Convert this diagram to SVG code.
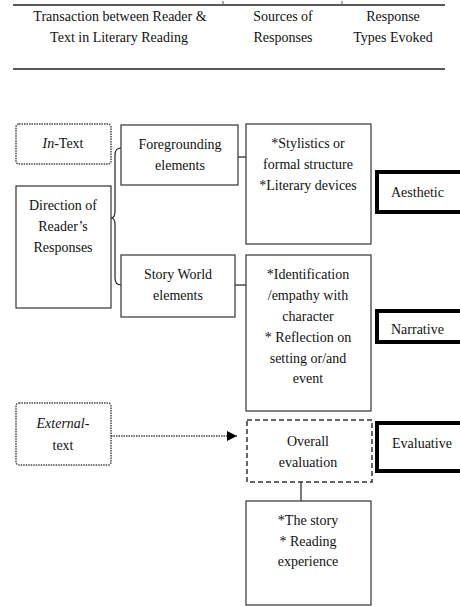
<svg xmlns="http://www.w3.org/2000/svg" width="460" height="607" viewBox="0 0 460 607">
<defs>
<style>
text{font-size:14px;fill:#111;text-anchor:middle}
.l{text-anchor:start}
.box{fill:#fff;stroke:#333;stroke-width:1.2}
.dot{fill:#fff;stroke:#444;stroke-width:1.5;stroke-dasharray:1.5 1}
.dash{fill:#fff;stroke:#333;stroke-width:1.5;stroke-dasharray:5 3}
.thick{fill:#fff;stroke:#000;stroke-width:4}
.ln{fill:none;stroke:#222;stroke-width:1.2}
</style>
<marker id="ah" viewBox="0 0 10 10" refX="10" refY="5" markerWidth="10" markerHeight="10" markerUnits="userSpaceOnUse" orient="auto">
<path d="M0,0 L10,5 L0,10 Z" fill="#000"/>
</marker>
</defs>
<rect width="460" height="607" fill="#fff"/>
<g font-family="Liberation Serif">
<g id="header">
<line x1="13" y1="5" x2="445" y2="5" stroke="#222" stroke-width="1.5"/>
<line x1="223" y1="1" x2="223" y2="5" stroke="#555" stroke-width="1"/>
<line x1="342" y1="1" x2="342" y2="5" stroke="#555" stroke-width="1"/>
<line x1="13" y1="69" x2="445" y2="69" stroke="#222" stroke-width="1.5"/>
<text x="120" y="21">Transaction  between Reader &amp;</text>
<text x="119" y="42">Text in Literary Reading</text>
<text x="283" y="21">Sources of</text>
<text x="283" y="42">Responses</text>
<text x="393" y="21">Response</text>
<text x="393" y="42">Types Evoked</text>
</g>
<g id="connectors">
<path class="ln" d="M121,148 Q115,148 115,155 L115,211 Q115,218 111,218 Q115,218 115,225 L115,278 Q115,285 121,285"/>
<line class="ln" x1="238" y1="157" x2="246" y2="157"/>
<line class="ln" x1="235" y1="285" x2="246" y2="285"/>
<line x1="111" y1="436" x2="237" y2="436" stroke="#444" stroke-width="1.5" stroke-dasharray="1.5 1" marker-end="url(#ah)"/>
<line class="ln" x1="301" y1="482" x2="301" y2="501"/>
</g>
<g id="in-text">
<rect class="dot" x="16" y="124" width="95" height="40" rx="3"/>
<text x="63" y="148"><tspan font-style="italic">In</tspan>-Text</text>
</g>
<g id="direction">
<rect class="box" x="16" y="186" width="95" height="122"/>
<text x="63" y="210">Direction of</text>
<text x="63" y="231">Reader’s</text>
<text x="63" y="252">Responses</text>
</g>
<g id="foregrounding">
<rect class="box" x="121" y="125" width="117" height="60"/>
<text x="180" y="149">Foregrounding</text>
<text x="180" y="170">elements</text>
</g>
<g id="story-world">
<rect class="box" x="121" y="255" width="114" height="62"/>
<text x="178" y="279">Story World</text>
<text x="178" y="300">elements</text>
</g>
<g id="stylistics">
<rect class="box" x="246" y="124" width="125" height="120"/>
<text x="308" y="148">*Stylistics or</text>
<text x="308" y="169">formal structure</text>
<text x="308" y="190">*Literary devices</text>
</g>
<g id="identification">
<rect class="box" x="246" y="255" width="125" height="156"/>
<text x="308" y="279">*Identification</text>
<text x="308" y="300">/empathy with</text>
<text x="308" y="321">character</text>
<text x="308" y="342">* Reflection on</text>
<text x="308" y="363">setting or/and</text>
<text x="308" y="383">event</text>
</g>
<g id="aesthetic">
<rect class="thick" x="377" y="172" width="100" height="40"/>
<text class="l" x="391" y="197">Aesthetic</text>
</g>
<g id="narrative">
<rect class="thick" x="377" y="311" width="100" height="31"/>
<text class="l" x="391" y="334">Narrative</text>
</g>
<g id="external-text">
<rect class="dot" x="16" y="403" width="95" height="62" rx="3"/>
<text x="63" y="428"><tspan font-style="italic">External</tspan>-</text>
<text x="63" y="450">text</text>
</g>
<g id="overall">
<rect class="dash" x="247" y="420" width="125" height="62"/>
<text x="308" y="446">Overall</text>
<text x="308" y="467">evaluation</text>
</g>
<g id="evaluative">
<rect class="thick" x="377" y="423" width="100" height="48"/>
<text class="l" x="392" y="448">Evaluative</text>
</g>
<g id="story">
<rect class="box" x="246" y="501" width="125" height="104"/>
<text x="308" y="525">*The story</text>
<text x="308" y="546">* Reading</text>
<text x="308" y="566">experience</text>
</g>
</g>
</svg>
